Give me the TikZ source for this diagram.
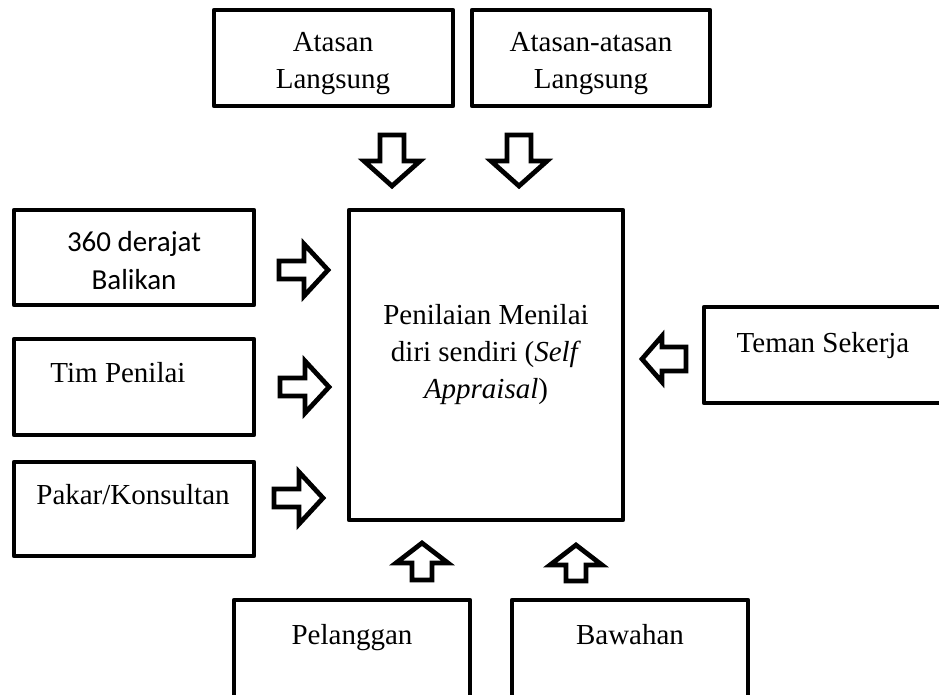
\documentclass[tikz,border=0pt]{standalone}
\usepackage{fontspec}
\setmainfont{Liberation Serif}
\newfontfamily\calibrifont{Carlito}
\usetikzlibrary{fit}
\begin{document}
\begin{tikzpicture}[x=0.02cm,y=-0.02cm,
  box/.style={draw, line width=0.095cm, line join=round, inner sep=0pt},
  txt/.style={font=\fontsize{16.5}{21}\selectfont, align=center, inner sep=0pt, anchor=base},
  barrow/.style={draw, line width=0.095cm, line join=miter, fill=white}]
\useasboundingbox (0,0) rectangle (939,694);
\clip (0,0) rectangle (939,694);
% boxes
\node[box, fit={(214,10) (453,106)}] (atasan) {};
\node[box, fit={(472,10) (710,106)}] (atasan2) {};
\node[box, fit={(349,210) (623,520)}] (self) {};
\node[box, fit={(14,210) (254,305)}] (balikan) {};
\node[box, fit={(14,339) (254,435)}] (tim) {};
\node[box, fit={(14,462) (254,556)}] (pakar) {};
\node[box, fit={(704,307) (960,403)}] (teman) {};
\node[box, fit={(234,600) (470,720)}] (pelanggan) {};
\node[box, fit={(512,600) (748,720)}] (bawahan) {};
% texts (anchor = baseline of last line)
\node[txt] (tatasan) at (333,88) {Atasan\\Langsung};
\node[txt] (tatasan2) at (591,88) {Atasan-atasan\\Langsung};
\node[txt, font=\calibrifont\fontsize{16.5}{21.5}\selectfont] (tbalikan) at (134,289) {360 derajat\\Balikan};
\node[txt] (ttim) at (118,382) {Tim Penilai};
\node[txt] (tpakar) at (133,504) {Pakar/Konsultan};
\node[txt] (tteman) at (823,352) {Teman Sekerja};
\node[txt] (tpelanggan) at (352,644) {Pelanggan};
\node[txt] (tbawahan) at (630,644) {Bawahan};
\node[txt] (tself) at (486,398) {Penilaian Menilai\\diri sendiri (\textit{Self}\\\textit{Appraisal})};
% down arrows
\draw[barrow] (380,135) -- (404,135) -- (404,161) -- (420,161) -- (392,186) -- (364,161) -- (380,161) -- cycle;
\draw[barrow] (507,135) -- (531,135) -- (531,161) -- (547,161) -- (519,186) -- (491,161) -- (507,161) -- cycle;
% right arrows
\draw[barrow] (279,261) -- (304,261) -- (304,244) -- (328,270) -- (304,296) -- (304,279) -- (279,279) -- cycle;
\draw[barrow] (280,378) -- (305,378) -- (305,361) -- (329,387) -- (305,413) -- (305,396) -- (280,396) -- cycle;
\draw[barrow] (274,489) -- (299,489) -- (299,472) -- (323,498) -- (299,524) -- (299,507) -- (274,507) -- cycle;
% left arrow
\draw[barrow] (686,347) -- (662,347) -- (662,336) -- (642,359) -- (662,382) -- (662,371) -- (686,371) -- cycle;
% up arrows
\draw[barrow] (412,580) -- (432,580) -- (432,563) -- (448,563) -- (422,543) -- (396,563) -- (412,563) -- cycle;
\draw[barrow] (566,581) -- (586,581) -- (586,565) -- (602,565) -- (576,545) -- (550,565) -- (566,565) -- cycle;
\end{tikzpicture}
\end{document}
